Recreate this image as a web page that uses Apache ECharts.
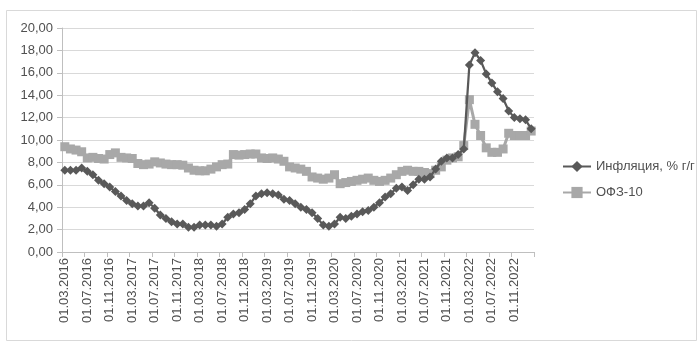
<!DOCTYPE html>
<html>
<head>
<meta charset="utf-8">
<script src="https://cdn.jsdelivr.net/npm/echarts@6/dist/echarts.min.js"></script>
<style>
html,body{margin:0;padding:0;background:#fff;}
#c{width:699px;height:345px;}
</style>
</head>
<body>
<div id="c"></div>
<script>
const categories = [
  "01.03.2016","01.04.2016","01.05.2016","01.06.2016","01.07.2016","01.08.2016","01.09.2016","01.10.2016","01.11.2016","01.12.2016",
  "01.01.2017","01.02.2017","01.03.2017","01.04.2017","01.05.2017","01.06.2017","01.07.2017","01.08.2017","01.09.2017","01.10.2017","01.11.2017","01.12.2017",
  "01.01.2018","01.02.2018","01.03.2018","01.04.2018","01.05.2018","01.06.2018","01.07.2018","01.08.2018","01.09.2018","01.10.2018","01.11.2018","01.12.2018",
  "01.01.2019","01.02.2019","01.03.2019","01.04.2019","01.05.2019","01.06.2019","01.07.2019","01.08.2019","01.09.2019","01.10.2019","01.11.2019","01.12.2019",
  "01.01.2020","01.02.2020","01.03.2020","01.04.2020","01.05.2020","01.06.2020","01.07.2020","01.08.2020","01.09.2020","01.10.2020","01.11.2020","01.12.2020",
  "01.01.2021","01.02.2021","01.03.2021","01.04.2021","01.05.2021","01.06.2021","01.07.2021","01.08.2021","01.09.2021","01.10.2021","01.11.2021","01.12.2021",
  "01.01.2022","01.02.2022","01.03.2022","01.04.2022","01.05.2022","01.06.2022","01.07.2022","01.08.2022","01.09.2022","01.10.2022","01.11.2022","01.12.2022",
  "01.01.2023","01.02.2023"
];
const inflation = [
  7.3, 7.3, 7.3, 7.5, 7.2, 6.9, 6.4, 6.1, 5.8, 5.4,
  5.0, 4.6, 4.3, 4.1, 4.1, 4.4, 3.9, 3.3, 3.0, 2.7, 2.5, 2.5,
  2.2, 2.2, 2.4, 2.4, 2.4, 2.3, 2.5, 3.1, 3.4, 3.5, 3.8, 4.3,
  5.0, 5.2, 5.3, 5.2, 5.1, 4.7, 4.6, 4.3, 4.0, 3.8, 3.5, 3.0,
  2.4, 2.3, 2.5, 3.1, 3.0, 3.2, 3.4, 3.6, 3.7, 4.0, 4.4, 4.9,
  5.2, 5.7, 5.8, 5.5, 6.0, 6.5, 6.5, 6.7, 7.4, 8.1, 8.4, 8.4,
  8.7, 9.2, 16.7, 17.8, 17.1, 15.9, 15.1, 14.3, 13.7, 12.6, 12.0, 11.9,
  11.8, 11.0
];
const ofz10 = [
  9.4, 9.2, 9.1, 8.95, 8.4, 8.45, 8.35, 8.3, 8.7, 8.85,
  8.45, 8.4, 8.35, 7.9, 7.8, 7.85, 8.05, 7.95, 7.85, 7.8, 7.8, 7.75,
  7.5, 7.3, 7.25, 7.25, 7.4, 7.6, 7.8, 7.85, 8.7, 8.65, 8.7, 8.75,
  8.75, 8.4, 8.35, 8.4, 8.3, 8.1, 7.6, 7.5, 7.4, 7.2, 6.7, 6.6,
  6.5, 6.6, 6.9, 6.1, 6.2, 6.3, 6.4, 6.5, 6.6, 6.4, 6.3, 6.4,
  6.6, 6.9, 7.2, 7.3, 7.2, 7.2, 7.1, 7.0, 7.3, 7.6, 8.2, 8.4,
  8.5, 9.5, 13.6, 11.4, 10.4, 9.3, 8.9, 8.9, 9.2, 10.6, 10.4, 10.4,
  10.4, 10.8
];
const seriesNames = ["Инфляция, % г/г", "ОФЗ-10"];

const FONT = "Liberation Sans";
const chart = echarts.init(document.getElementById('c'), null, {renderer:'canvas'});
chart.setOption({
  animation: false,
  backgroundColor: '#ffffff',
  graphic: [{
    type: 'rect', left: 4, top: 8,
    shape: {width: 690, height: 330},
    style: {fill: 'none', stroke: '#d9d9d9', lineWidth: 1}
  }],
  grid: {left: 62, right: 165, top: 28, bottom: 93, containLabel: false},
  legend: {
    orient: 'vertical', left: 557, top: 155,
    itemWidth: 28, itemHeight: 14, itemGap: 13,
    textStyle: {fontFamily: FONT, fontSize: 13, color: '#505050', padding: [0,0,0,0]},
    data: seriesNames
  },
  xAxis: {
    type: 'category', data: categories, boundaryGap: true,
    axisLine: {lineStyle: {color: '#bfbfbf', width: 1}},
    axisTick: {show: true, interval: 3, length: 5, lineStyle: {color: '#bfbfbf'}},
    axisLabel: {interval: 3, rotate: 90, margin: 6, fontFamily: FONT, fontSize: 13, color: '#505050'},
    splitLine: {show: false}
  },
  yAxis: {
    type: 'value', min: 0, max: 20, interval: 2,
    axisLine: {show: true, lineStyle: {color: '#bfbfbf', width: 1}},
    axisTick: {show: true, length: 5, lineStyle: {color: '#bfbfbf'}},
    axisLabel: {margin: 9, fontFamily: FONT, fontSize: 13, color: '#505050',
      formatter: v => v.toFixed(2).replace('.', ',')},
    splitLine: {lineStyle: {color: '#d9d9d9', width: 1}}
  },
  series: [
    {
      name: seriesNames[0], type: 'line', data: inflation,
      symbol: 'diamond', symbolSize: 9, showAllSymbol: true,
      lineStyle: {color: '#595959', width: 2.25},
      itemStyle: {color: '#595959'},
      z: 3
    },
    {
      name: seriesNames[1], type: 'line', data: ofz10,
      symbol: 'rect', symbolSize: 9, showAllSymbol: true,
      lineStyle: {color: '#a8a8a8', width: 3},
      itemStyle: {color: '#a8a8a8'},
      z: 2
    }
  ]
});
</script>
</body>
</html>
